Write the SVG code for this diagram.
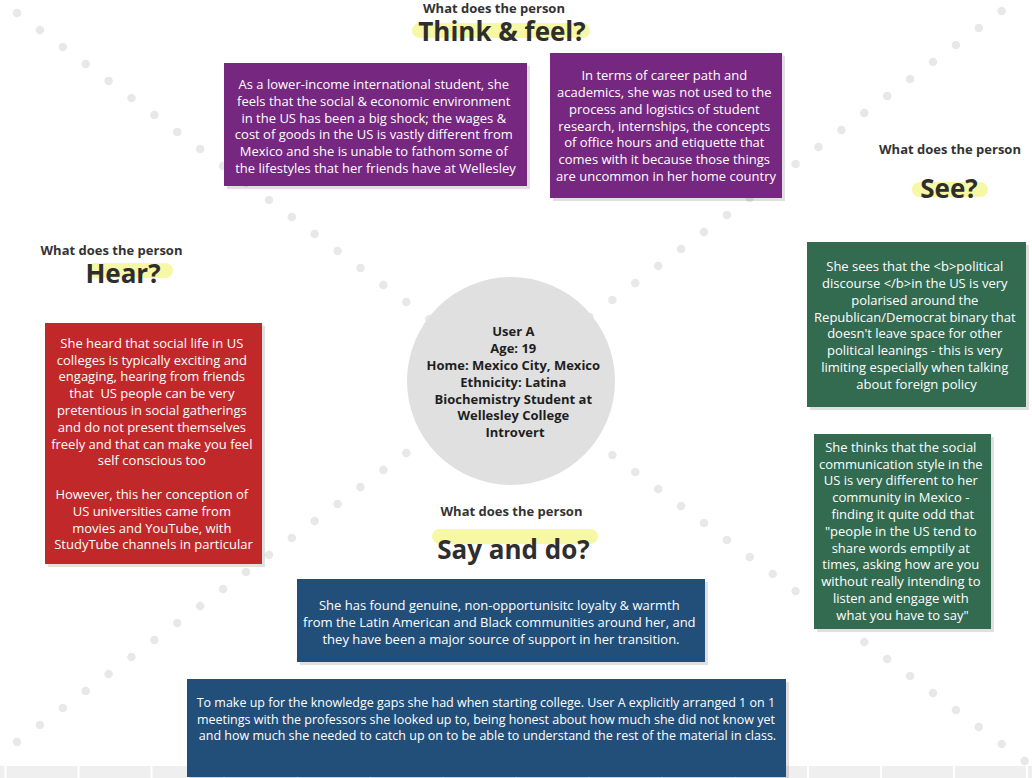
<svg xmlns="http://www.w3.org/2000/svg" width="1032" height="778" viewBox="0 0 1032 778">
  <style>
    .bg { fill: #ffffff; }
    .dots { fill: none; stroke: #e8e8e8; stroke-width: 8.5; stroke-linecap: round; stroke-dasharray: 0 28.52; }
    .band { fill: #efefef; }
    .sep { fill: #ffffff; }
    .shadow { fill: #000000; opacity: 0.12; }
    .purple { fill: #76277f; }
    .green { fill: #336b51; }
    .red { fill: #c0282a; }
    .blue { fill: #224f79; }
    .note { font-family: "Open Sans", "Liberation Sans", sans-serif; font-size: 13px; fill: #ffffff; text-anchor: middle; }
    .small { font-size: 12.5px; }
    .ask { font-family: "Open Sans", "Liberation Sans", sans-serif; font-size: 13px; font-weight: 700; fill: #333333; text-anchor: middle; }
    .title { font-family: "Open Sans", "Liberation Sans", sans-serif; font-size: 26px; font-weight: 700; fill: #2e2e2e; text-anchor: middle; }
    .pill { fill: #f6f8a6; }
    .persona { fill: #e0e0e0; }
    .ptext { font-family: "Open Sans", "Liberation Sans", sans-serif; font-size: 13px; font-weight: 700; fill: #1e1e1e; text-anchor: middle; }
  </style>

  <rect class="bg" x="0" y="0" width="1032" height="778"/>

  <!-- bottom grid strip -->
  <g id="strip">
    <rect class="band" x="0" y="766" width="1032" height="12"/>
    <rect class="sep" x="4.5" y="766" width="2" height="12"/>
    <rect class="sep" x="77.5" y="766" width="2" height="12"/>
    <rect class="sep" x="150.5" y="766" width="2" height="12"/>
    <rect class="sep" x="223.4" y="766" width="2" height="12"/>
    <rect class="sep" x="296.4" y="766" width="2" height="12"/>
    <rect class="sep" x="369.3" y="766" width="2" height="12"/>
    <rect class="sep" x="442.3" y="766" width="2" height="12"/>
    <rect class="sep" x="515.2" y="766" width="2" height="12"/>
    <rect class="sep" x="588.2" y="766" width="2" height="12"/>
    <rect class="sep" x="661.1" y="766" width="2" height="12"/>
    <rect class="sep" x="734.1" y="766" width="2" height="12"/>
    <rect class="sep" x="807" y="766" width="2" height="12"/>
    <rect class="sep" x="880" y="766" width="2" height="12"/>
    <rect class="sep" x="952.9" y="766" width="2" height="12"/>
    <rect class="sep" x="1025.9" y="766" width="2" height="12"/>
  </g>

  <!-- dotted diagonals crossing behind the persona -->
  <g id="connectors">
    <path class="dots" d="M17 13 L1024.6 761"/>
    <path class="dots" d="M17 742 L1024.6 -6"/>
  </g>

  <!-- section headings -->
  <g id="think-feel">
    <text class="ask" x="494" y="12.5">What does the person</text>
    <rect class="pill" x="412" y="23" width="178" height="15" rx="7.5"/>
    <text class="title" x="502" y="40.5">Think &amp; feel?</text>
  </g>
  <g id="see">
    <text class="ask" x="950" y="153.5">What does the person</text>
    <rect class="pill" x="912" y="182" width="76" height="15" rx="7.5"/>
    <text class="title" x="949" y="198">See?</text>
  </g>
  <g id="hear">
    <text class="ask" x="111.5" y="254.5">What does the person</text>
    <rect class="pill" x="88" y="263" width="85" height="15" rx="7.5"/>
    <text class="title" x="123" y="283">Hear?</text>
  </g>
  <g id="say-do">
    <text class="ask" x="511.5" y="515.5">What does the person</text>
    <rect class="pill" x="432" y="529" width="166" height="15" rx="7.5"/>
    <text class="title" x="513.5" y="558.5">Say and do?</text>
  </g>

  <!-- persona -->
  <g id="persona">
    <circle class="persona" cx="511" cy="381" r="104"/>
    <text class="ptext">
      <tspan x="515" y="336.3">User A</tspan>
      <tspan x="515" y="353.1">Age: 19</tspan>
      <tspan x="515" y="369.9">Home: Mexico City, Mexico</tspan>
      <tspan x="515" y="386.7">Ethnicity: Latina</tspan>
      <tspan x="515" y="403.5">Biochemistry Student at</tspan>
      <tspan x="515" y="420.3">Wellesley College</tspan>
      <tspan x="515" y="437.1">Introvert</tspan>
    </text>
  </g>

  <!-- Think & feel notes -->
  <g id="note-economy">
    <rect class="shadow" x="227" y="66" width="303" height="123"/>
    <rect class="purple" x="224" y="63" width="303" height="123"/>
    <text class="note">
      <tspan x="375.5" y="89">As a lower-income international student, she</tspan>
      <tspan x="375.5" y="105.8">feels that the social &amp; economic environment</tspan>
      <tspan x="375.5" y="122.6">in the US has been a big shock; the wages &amp;</tspan>
      <tspan x="375.5" y="139.4">cost of goods in the US is vastly different from</tspan>
      <tspan x="375.5" y="156.2">Mexico and she is unable to fathom some of</tspan>
      <tspan x="375.5" y="173">the lifestyles that her friends have at Wellesley</tspan>
    </text>
  </g>
  <g id="note-career">
    <rect class="shadow" x="553" y="56" width="232" height="145"/>
    <rect class="purple" x="550" y="53" width="232" height="145"/>
    <text class="note">
      <tspan x="666" y="80.2">In terms of career path and</tspan>
      <tspan x="666" y="97">academics, she was not used to the</tspan>
      <tspan x="666" y="113.8">process and logistics of student</tspan>
      <tspan x="666" y="130.6">research, internships, the concepts</tspan>
      <tspan x="666" y="147.4">of office hours and etiquette that</tspan>
      <tspan x="666" y="164.2">comes with it because those things</tspan>
      <tspan x="666" y="181">are uncommon in her home country</tspan>
    </text>
  </g>

  <!-- See notes -->
  <g id="note-politics">
    <rect class="shadow" x="810" y="245" width="219" height="165"/>
    <rect class="green" x="807" y="242" width="219" height="165"/>
    <text class="note">
      <tspan x="916.5" y="271.2">She sees that the &lt;b&gt;political</tspan>
      <tspan x="916.5" y="288">discourse &lt;/b&gt;in the US is very</tspan>
      <tspan x="916.5" y="304.8">polarised around the</tspan>
      <tspan x="916.5" y="321.6">Republican/Democrat binary that</tspan>
      <tspan x="916.5" y="338.4">doesn't leave space for other</tspan>
      <tspan x="916.5" y="355.2">political leanings - this is very</tspan>
      <tspan x="916.5" y="372">limiting especially when talking</tspan>
      <tspan x="916.5" y="388.8">about foreign policy</tspan>
    </text>
  </g>
  <g id="note-communication">
    <rect class="shadow" x="817" y="437" width="177" height="195"/>
    <rect class="green" x="814" y="434" width="177" height="195"/>
    <text class="note">
      <tspan x="902.5" y="451.8">She thinks that the social</tspan>
      <tspan x="902.5" y="468.6">communication style in the</tspan>
      <tspan x="902.5" y="485.4">US is very different to her</tspan>
      <tspan x="902.5" y="502.2">community in Mexico -</tspan>
      <tspan x="904.5" y="519">finding it quite odd that</tspan>
      <tspan x="902.5" y="535.8">"people in the US tend to</tspan>
      <tspan x="902.5" y="552.6">share words emptily at</tspan>
      <tspan x="902.5" y="569.4">times, asking how are you</tspan>
      <tspan x="902.5" y="586.2">without really intending to</tspan>
      <tspan x="902.5" y="603">listen and engage with</tspan>
      <tspan x="902.5" y="619.8">what you have to say"</tspan>
    </text>
  </g>

  <!-- Hear note -->
  <g id="note-social">
    <rect class="shadow" x="48" y="326" width="217" height="241"/>
    <rect class="red" x="45" y="323" width="217" height="241"/>
    <text class="note">
      <tspan x="153.5" y="347.8">She heard that social life in US</tspan>
      <tspan x="153.5" y="364.6">colleges is typically exciting and</tspan>
      <tspan x="153.5" y="381.4">engaging, hearing from friends</tspan>
      <tspan x="153.5" y="398.2">that&#160; US people can be very</tspan>
      <tspan x="153.5" y="415">pretentious in social gatherings</tspan>
      <tspan x="153.5" y="431.8">and do not present themselves</tspan>
      <tspan x="153.5" y="448.6">freely and that can make you feel</tspan>
      <tspan x="153.5" y="465.4">self conscious too</tspan>
      <tspan x="153.5" y="499">However, this her conception of</tspan>
      <tspan x="153.5" y="515.8">US universities came from</tspan>
      <tspan x="153.5" y="532.6">movies and YouTube, with</tspan>
      <tspan x="153.5" y="549.4">StudyTube channels in particular</tspan>
    </text>
  </g>

  <!-- Say and do notes -->
  <g id="note-community">
    <rect class="shadow" x="300" y="582" width="408" height="83"/>
    <rect class="blue" x="297" y="579" width="408" height="83"/>
    <text class="note">
      <tspan x="501" y="610.2">She has found genuine, non-opportunisitc loyalty &amp; warmth</tspan>
      <tspan x="501" y="627">from the Latin American and Black communities around her, and</tspan>
      <tspan x="501" y="643.8">they have been a major source of support in her transition.</tspan>
    </text>
  </g>
  <g id="note-professors">
    <rect class="shadow" x="190" y="682" width="599" height="98"/>
    <rect class="blue" x="187" y="679" width="599" height="98"/>
    <text class="note small">
      <tspan x="487.5" y="706.8">To make up for the knowledge gaps she had when starting college. User A explicitly arranged 1 on 1</tspan>
      <tspan x="487.5" y="723.6">meetings with the professors she looked up to, being honest about how much she did not know yet</tspan>
      <tspan x="487.5" y="740.4">and how much she needed to catch up on to be able to understand the rest of the material in class.</tspan>
    </text>
  </g>
</svg>
